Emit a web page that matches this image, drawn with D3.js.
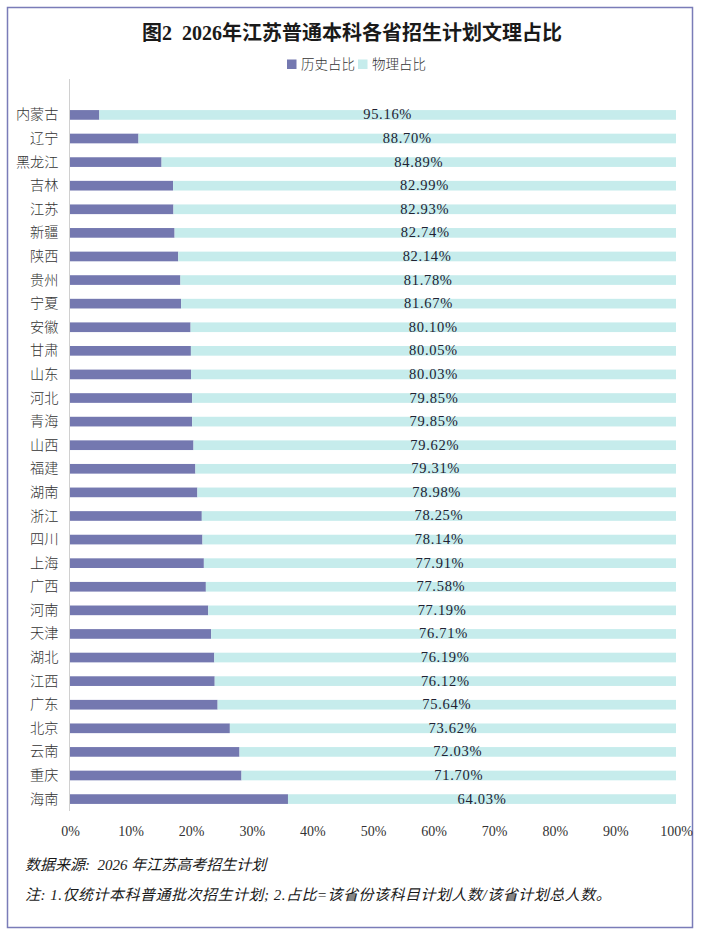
<!DOCTYPE html>
<html>
<head>
<meta charset="utf-8">
<script src="https://cdn.jsdelivr.net/npm/d3@7"></script>
<style>
  html, body { margin: 0; padding: 0; background: #fff; }
  svg { display: block; }
  text { font-family: "Liberation Serif", "Noto Sans CJK SC", serif; white-space: pre; }
</style>
</head>
<body>
<script>
const titleText = "图2  2026年江苏普通本科各省招生计划文理占比";
const seriesNames = ["历史占比", "物理占比"];
const provinces = ["内蒙古","辽宁","黑龙江","吉林","江苏","新疆","陕西","贵州","宁夏","安徽","甘肃","山东","河北","青海","山西","福建","湖南","浙江","四川","上海","广西","河南","天津","湖北","江西","广东","北京","云南","重庆","海南"];
const physicsShare = [95.16,88.70,84.89,82.99,82.93,82.74,82.14,81.78,81.67,80.10,80.05,80.03,79.85,79.85,79.62,79.31,78.98,78.25,78.14,77.91,77.58,77.19,76.71,76.19,76.12,75.64,73.62,72.03,71.70,64.03];
const historyShare = [4.84,11.30,15.11,17.01,17.07,17.26,17.86,18.22,18.33,19.90,19.95,19.97,20.15,20.15,20.38,20.69,21.02,21.75,21.86,22.09,22.42,22.81,23.29,23.81,23.88,24.36,26.38,27.97,28.30,35.97];
const xTicks = [0,10,20,30,40,50,60,70,80,90,100];
const note1 = "数据来源:  2026 年江苏高考招生计划";
const note2 = "注: 1.仅统计本科普通批次招生计划; 2.占比=该省份该科目计划人数/该省计划总人数。";

const colors = ["#7478b0", "#c6ecec"];
const W = 702, H = 938;

const svg = d3.select("body").append("svg").attr("width", W).attr("height", H);

// frame
svg.append("rect").attr("x", 7.5).attr("y", 7.5).attr("width", 685).attr("height", 920)
  .attr("fill", "#fff").attr("stroke", "#7a7cb8").attr("stroke-width", 1.5);

// title
svg.append("text").attr("x", 352).attr("y", 33).attr("text-anchor", "middle")
  .attr("font-size", 20).attr("font-weight", "bold").attr("fill", "#1a1a1a")
  .attr("dominant-baseline", "central").text(titleText);

// legend
const legend = svg.append("g");
const legendItems = [{x: 287, tx: 301}, {x: 358, tx: 372}];
seriesNames.forEach((n, i) => {
  legend.append("rect").attr("x", legendItems[i].x).attr("y", 59.5).attr("width", 9.5).attr("height", 9.5).attr("fill", colors[i]);
  legend.append("text").attr("x", legendItems[i].tx).attr("y", 64.5).attr("dominant-baseline", "central")
    .attr("font-size", 13.5).attr("fill", "#333").attr("font-weight", 300).text(n);
});

const x = d3.scaleLinear().domain([0, 100]).range([70, 676]);
const y = d3.scaleBand().domain(provinces).range([103, 811]).paddingInner(0.59).paddingOuter(0.3);

const rows = provinces.map((p, i) => ({p, h: historyShare[i], ph: physicsShare[i]}));

// bars
const g = svg.append("g");
g.selectAll(".hist").data(rows).join("rect")
  .attr("x", x(0)).attr("y", d => y(d.p)).attr("width", d => x(d.h) - x(0)).attr("height", y.bandwidth())
  .attr("fill", colors[0]);
g.selectAll(".phys").data(rows).join("rect")
  .attr("x", d => x(d.h)).attr("y", d => y(d.p)).attr("width", d => x(d.h + d.ph) - x(d.h)).attr("height", y.bandwidth())
  .attr("fill", colors[1]);

// value labels
g.selectAll(".lbl").data(rows).join("text")
  .attr("x", d => x(d.h + d.ph / 2)).attr("y", d => y(d.p) + y.bandwidth() / 2 - 0.5)
  .attr("text-anchor", "middle").attr("dominant-baseline", "central")
  .attr("font-size", 14.5).attr("letter-spacing", 0.7).attr("fill", "#222233")
  .text(d => d.ph.toFixed(2) + "%");

// y axis
const yAxis = svg.append("g").attr("transform", `translate(${x(0) - 0.5},0)`)
  .call(d3.axisLeft(y).tickSize(0).tickPadding(11));
yAxis.select(".domain").remove();
svg.append("line").attr("x1", 69.5).attr("x2", 69.5).attr("y1", 79).attr("y2", 811)
  .attr("stroke", "#d0d0d0").attr("stroke-width", 1);
yAxis.selectAll("text").attr("font-size", 14.2).attr("fill", "#333").attr("font-weight", 300)
  .attr("font-family", "'Noto Sans CJK SC', sans-serif");

// x axis
const xAxis = svg.append("g").attr("transform", "translate(0,831)")
  .call(d3.axisBottom(x).tickValues(xTicks).tickSize(0).tickPadding(0).tickFormat(d => d + "%"));
xAxis.select(".domain").remove();
xAxis.selectAll("text").attr("font-size", 14).attr("fill", "#333").attr("dy", 0)
  .attr("dominant-baseline", "central").attr("font-family", "'Liberation Serif', serif");

// notes
svg.append("text").attr("x", 25).attr("y", 865).attr("dominant-baseline", "central")
  .attr("font-size", 15).attr("font-style", "italic").attr("fill", "#1a1a1a").text(note1);
svg.append("text").attr("x", 25).attr("y", 895).attr("dominant-baseline", "central")
  .attr("font-size", 15).attr("letter-spacing", 0.5).attr("font-style", "italic").attr("fill", "#1a1a1a").text(note2);
</script>
</body>
</html>
